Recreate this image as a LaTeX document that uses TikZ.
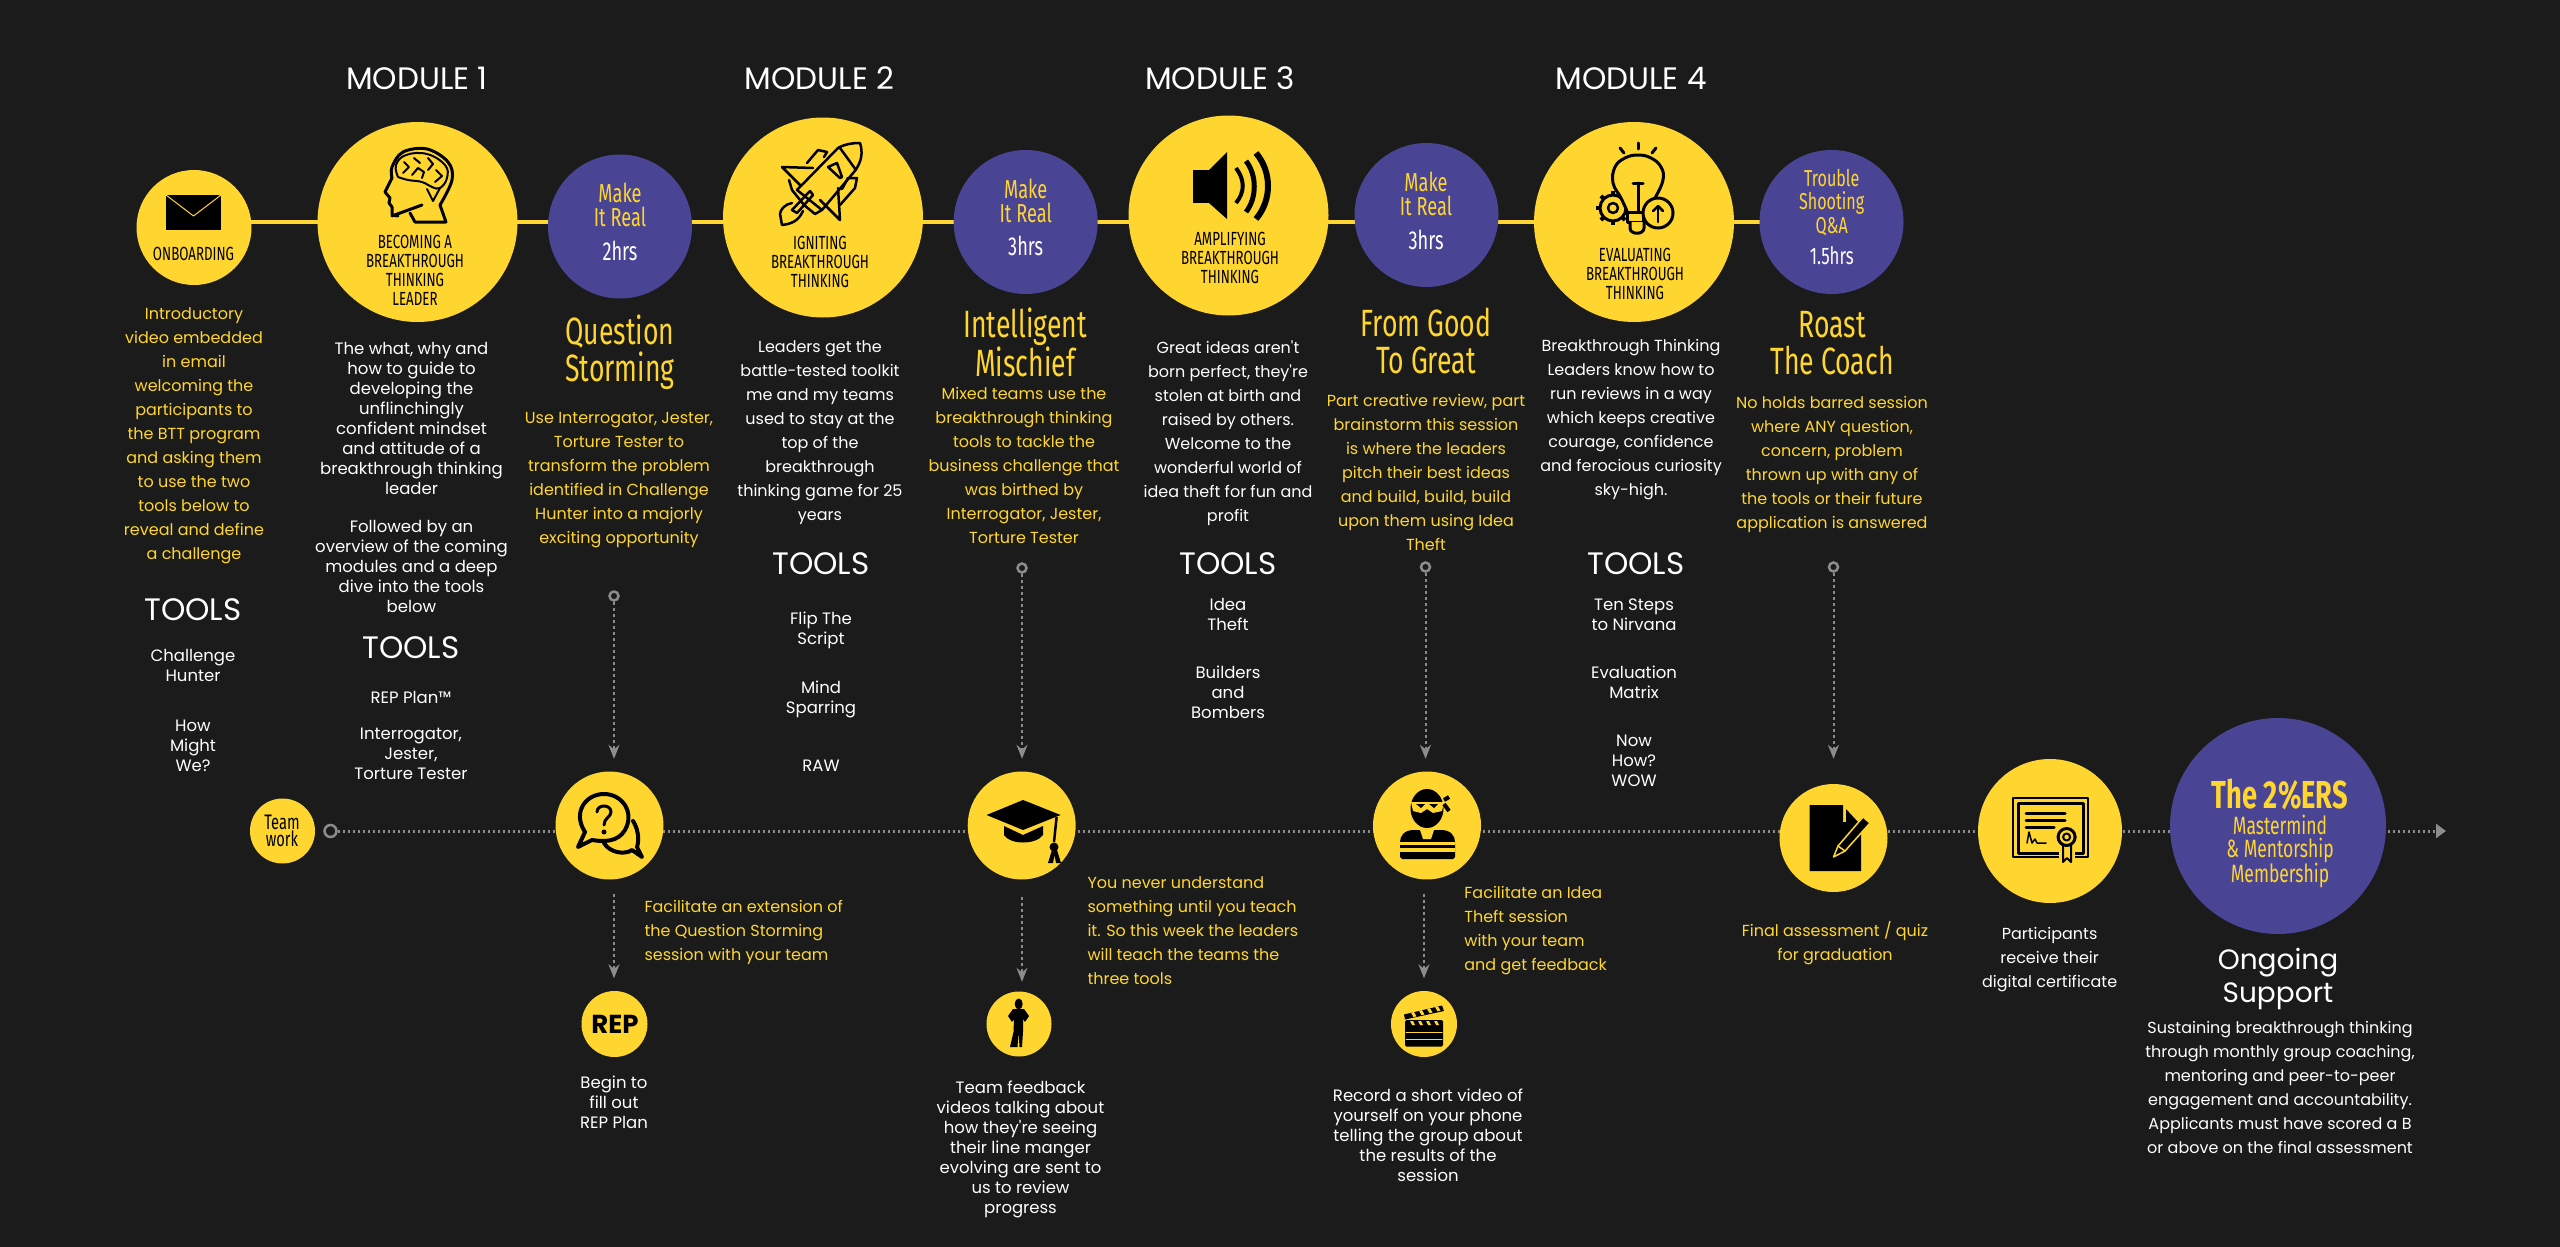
\documentclass[tikz,border=0pt]{standalone}
\usepackage{fontspec}
\usetikzlibrary{arrows.meta, backgrounds}
\newfontfamily\bodyfont{Poppins}
\newfontfamily\condfont[FakeStretch=0.7]{Fira Sans}
\definecolor{nightbg}{HTML}{1B1B1B}
\definecolor{discyellow}{HTML}{FFD62F}
\definecolor{discpurple}{HTML}{4A4494}
\definecolor{trailgrey}{HTML}{8C8C8C}
\tikzset{
  yellowdisc/.style={circle, fill=discyellow, inner sep=0pt, minimum size=#1},
  purpledisc/.style={circle, fill=discpurple, inner sep=0pt, minimum size=#1},
  openring/.style={circle, draw=trailgrey, fill=nightbg, line width=2.5pt, inner sep=0pt, minimum size=#1},
  spineline/.style={draw=discyellow, line width=3.2pt},
  dotline/.style={draw=trailgrey, line width=3pt, dash pattern=on 2.5pt off 2.5pt, -{Triangle[length=10pt,width=14pt,fill=trailgrey]}},
  dropline/.style={draw=trailgrey, line width=2pt, dash pattern=on 3pt off 3pt, -{Stealth[length=14pt,width=11pt,fill=trailgrey]}},
  textbase/.style={inner sep=0pt, outer sep=0pt, align=center, anchor=north, execute at begin node=\strut},
  bodyyellow/.style={textbase, yshift=-6.5pt, text=discyellow, font=\fontsize{16}{24}\selectfont\bodyfont},
  bodywhite/.style={textbase, yshift=-6.5pt, text=white, font=\fontsize{16}{24}\selectfont\bodyfont},
  tightwhite/.style={textbase, yshift=-6.5pt, text=white, font=\fontsize{16.5}{20}\selectfont\bodyfont},
  headwhite/.style={textbase, yshift=-5pt, anchor=center, text=white, font=\fontsize{31}{34}\selectfont\bodyfont},
  discblack/.style={textbase, yshift=-3.5pt, text=black, font=\fontsize{19}{19}\selectfont\condfont},
  makeyellow/.style={textbase, yshift=-4pt, anchor=center, text=discyellow, font=\fontsize{26}{24}\selectfont\condfont},
  hourswhite/.style={textbase, yshift=-3pt, anchor=center, text=white, font=\fontsize{26}{24}\selectfont\condfont},
  titleyellow/.style={textbase, yshift=-6pt, text=discyellow, font=\fontsize{38}{37}\selectfont\condfont},
  icon/.style={draw=black, line width=3pt, line cap=round, line join=round},
  cuticon/.style={draw=discyellow, line width=1.5pt, line cap=round, line join=round}
}
\begin{document}
\begin{tikzpicture}[x=1pt, y=-1pt]
  \useasboundingbox (0,0) rectangle (2560,1247);

  \node[yellowdisc=115pt] (onboard) at (194,227.5) {};
  \node[yellowdisc=200pt] (moduleone) at (417.5,222) {};
  \node[purpledisc=144pt] (realone) at (620,226.5) {};
  \node[yellowdisc=200pt] (moduletwo) at (823,217.5) {};
  \node[purpledisc=144pt] (realtwo) at (1025.7,222) {};
  \node[yellowdisc=200pt] (modulethree) at (1228.5,215.5) {};
  \node[purpledisc=144pt] (realthree) at (1426.5,215) {};
  \node[yellowdisc=200pt] (modulefour) at (1634,222) {};
  \node[purpledisc=144pt] (realfour) at (1831.5,222) {};

  \node[yellowdisc=65pt] (teamdisc) at (282.5,831) {};
  \node[openring=12pt] (teamring) at (330.5,831) {};
  \node[yellowdisc=108pt] (quizdisc) at (609.5,825.5) {};
  \node[yellowdisc=108pt] (capdisc) at (1021.7,825.5) {};
  \node[yellowdisc=108pt] (ninjadisc) at (1427,825.5) {};
  \node[yellowdisc=108pt] (pagedisc) at (1833.5,838) {};
  \node[yellowdisc=144pt] (certdisc) at (2050,831) {};
  \node[purpledisc=216pt] (ersdisc) at (2278,826) {};
  \node[yellowdisc=66pt] (repdisc) at (614.5,1024) {};
  \node[yellowdisc=65pt] (womandisc) at (1019,1024) {};
  \node[yellowdisc=66pt] (clapdisc) at (1424,1024) {};

  \node[openring=9pt] (ringquiz) at (614,596) {};
  \node[openring=9pt] (ringcap) at (1022,568) {};
  \node[openring=9pt] (ringninja) at (1425.5,567) {};
  \node[openring=9pt] (ringpage) at (1833.5,567) {};

  \coordinate (spinelevel) at (0,222);
  \coordinate (dotend) at (2446,831);

  \begin{scope}[on background layer]
    \fill[nightbg] (0,0) rectangle (2560,1247);
    \draw[spineline] (onboard |- spinelevel) -- (realfour |- spinelevel);
    \draw[dotline] (teamring) -- (dotend);
  \end{scope}

  \draw[dropline, shorten >=12.5pt] (ringquiz) -- (ringquiz |- quizdisc.north);
  \draw[dropline, shorten >=12.5pt] (ringcap) -- (ringcap |- capdisc.north);
  \draw[dropline, shorten >=12.5pt] (ringninja) -- (ringninja |- ninjadisc.north);
  \draw[dropline, shorten >=25pt] (ringpage) -- (ringpage |- pagedisc.north);
  \draw[dropline, shorten <=14pt, shorten >=12.5pt] (ringquiz |- quizdisc.south) -- (ringquiz |- repdisc.north);
  \draw[dropline, shorten <=17pt, shorten >=9.5pt] (ringcap |- capdisc.south) -- (ringcap |- womandisc.north);
  \draw[dropline, shorten <=14pt, shorten >=12.5pt] (clapdisc |- ninjadisc.south) -- (clapdisc.north);

  \node[headwhite] (titleone) at (417,78) {MODULE 1};
  \node[headwhite] (titletwo) at (819.5,78) {MODULE 2};
  \node[headwhite] (titlethree) at (1220,78) {MODULE 3};
  \node[headwhite] (titlefour) at (1631,78) {MODULE 4};

  \node[discblack, anchor=center] (onboardtext) at (193.5,252.7) {ONBOARDING};
  \node[discblack] (moduleonetext) at (415,232) {BECOMING A\\BREAKTHROUGH\\THINKING\\LEADER};
  \node[discblack] (moduletwotext) at (820,233) {IGNITING\\BREAKTHROUGH\\THINKING};
  \node[discblack] (modulethreetext) at (1230,229) {AMPLIFYING\\BREAKTHROUGH\\THINKING};
  \node[discblack] (modulefourtext) at (1635,245) {EVALUATING\\BREAKTHROUGH\\THINKING};

  \node[makeyellow] (makeone) at (620,204) {Make\\It Real};
  \node[hourswhite] (hoursone) at (620,251) {2hrs};
  \node[makeyellow] (maketwo) at (1025.7,200) {Make\\It Real};
  \node[hourswhite] (hourstwo) at (1025.7,246.7) {3hrs};
  \node[makeyellow] (makethree) at (1426,193) {Make\\It Real};
  \node[hourswhite] (hoursthree) at (1426,240) {3hrs};
  \node[textbase, yshift=-4pt, anchor=center, text=discyellow, font=\fontsize{23}{23.5}\selectfont\condfont] (makefour) at (1831.7,200.5) {Trouble\\Shooting\\Q\&A};
  \node[hourswhite, font=\fontsize{24}{24}\selectfont\condfont] (hoursfour) at (1831.7,256) {1.5hrs};

  \node[titleyellow] (titlestorm) at (620,309) {Question\\Storming};
  \node[titleyellow] (titlemischief) at (1025,302) {Intelligent\\Mischief};
  \node[titleyellow] (titlegreat) at (1426,302) {From Good\\To Great};
  \node[titleyellow] (titleroast) at (1832,305) {Roast\\The Coach};

  \node[bodyyellow] (introtext) at (194,301) {Introductory\\video embedded\\in email\\welcoming the\\participants to\\the BTT program\\and asking them\\to use the two\\tools below to\\reveal and define\\a challenge};
  \node[headwhite] (toolsonboard) at (193,609) {TOOLS};
  \node[tightwhite] (listonboard) at (193,643) {Challenge\\Hunter\\[30pt]How\\Might\\We?};

  \node[tightwhite] (moduleonebody) at (411.5,336) {The what, why and\\how to guide to\\developing the\\unflinchingly\\confident mindset\\and attitude of a\\breakthrough thinking\\leader\\[18pt]Followed by an\\overview of the coming\\modules and a deep\\dive into the tools\\below};
  \node[headwhite] (toolsone) at (411,647) {TOOLS};
  \node[tightwhite] (listone) at (411,685) {REP Plan\texttrademark\\[16pt]Interrogator,\\Jester,\\Torture Tester};

  \node[bodyyellow] (stormbody) at (619,406) {Use Interrogator, Jester,\\Torture Tester to\\transform the problem\\identified in Challenge\\Hunter into a majorly\\exciting opportunity};

  \node[bodywhite] (moduletwobody) at (820,334) {Leaders get the\\battle-tested toolkit\\me and my teams\\used to stay at the\\top of the\\breakthrough\\thinking game for 25\\years};
  \node[headwhite] (toolstwo) at (821,563) {TOOLS};
  \node[tightwhite] (listtwo) at (821,605) {Flip The\\Script\\[29pt]Mind\\Sparring\\[38pt]RAW};

  \node[bodyyellow] (mischiefbody) at (1024,381) {Mixed teams use the\\breakthrough thinking\\tools to tackle the\\business challenge that\\was birthed by\\Interrogator, Jester,\\Torture Tester};

  \node[bodywhite] (modulethreebody) at (1228,334) {Great ideas aren't\\born perfect, they're\\stolen at birth and\\raised by others.\\Welcome to the\\wonderful world of\\idea theft for fun and\\profit};
  \node[headwhite] (toolsthree) at (1228,563) {TOOLS};
  \node[tightwhite] (listthree) at (1228,592) {Idea\\Theft\\[28pt]Builders\\and\\Bombers};

  \node[bodyyellow] (greatbody) at (1426,388) {Part creative review, part\\brainstorm this session\\is where the leaders\\pitch their best ideas\\and build, build, build\\upon them using Idea\\Theft};

  \node[bodywhite] (modulefourbody) at (1631,333) {Breakthrough Thinking\\Leaders know how to\\run reviews in a way\\which keeps creative\\courage, confidence\\and ferocious curiosity\\sky-high.};
  \node[headwhite] (toolsfour) at (1636,563) {TOOLS};
  \node[tightwhite] (listfour) at (1634,592) {Ten Steps\\to Nirvana\\[28pt]Evaluation\\Matrix\\[28pt]Now\\How?\\WOW};

  \node[bodyyellow] (roastbody) at (1832,390) {No holds barred session\\where ANY question,\\concern, problem\\thrown up with any of\\the tools or their future\\application is answered};

  \node[textbase, yshift=-2pt, anchor=center, text=black, font=\fontsize{21}{15.5}\selectfont\condfont] (teamtext) at (282,831) {Team\\work};
  \node[bodyyellow, anchor=north west, align=left] (extendtext) at (644.5,894) {Facilitate an extension of\\the Question Storming\\session with your team};
  \node[tightwhite] (reptext) at (614,1069) {Begin to\\fill out\\REP Plan};
  \node[bodyyellow, anchor=north west, align=left] (teachtext) at (1087.5,870) {You never understand\\something until you teach\\it. So this week the leaders\\will teach the teams the\\three tools};
  \node[tightwhite] (womantext) at (1020.5,1074) {Team feedback\\videos talking about\\how they're seeing\\their line manger\\evolving are sent to\\us to review\\progress};
  \node[bodyyellow, anchor=north west, align=left] (ideatext) at (1464.4,880) {Facilitate an Idea\\Theft session\\with your team\\and get feedback};
  \node[tightwhite] (cliptext) at (1428,1082) {Record a short video of\\yourself on your phone\\telling the group about\\the results of the\\session};
  \node[bodyyellow] (assesstext) at (1835,915) {Final assessment / quiz\\for graduation};
  \node[bodywhite] (certtext) at (2049.6,921) {Participants\\receive their\\digital certificate};

  \node[textbase, yshift=-6pt, anchor=center, text=discyellow, font=\fontsize{39}{36}\selectfont\condfont\bfseries] (erstitle) at (2280,792.7) {The 2\%ERS};
  \node[textbase, yshift=-2pt, text=discyellow, font=\fontsize{25}{22.5}\selectfont\condfont] (erstext) at (2280,813) {Mastermind\\\& Mentorship\\Membership};
  \node[textbase, yshift=-5pt, anchor=center, text=white, font=\fontsize{28}{33}\selectfont\bodyfont] (ongoing) at (2278,975) {Ongoing\\Support};
  \node[bodywhite] (ongoingbody) at (2280,1015) {Sustaining breakthrough thinking\\through monthly group coaching,\\mentoring and peer-to-peer\\engagement and accountability.\\Applicants must have scored a B\\or above on the final assessment};
  \node[textbase, yshift=-2pt, anchor=center, text=black, font=\fontsize{26}{30}\selectfont\bodyfont\bfseries] (reptitle) at (615,1025) {REP};

  \fill (166,195) rectangle (221,230);
  \draw[cuticon, line width=1pt] (166,195) -- (193.5,216) -- (221,195);

  \draw[icon] plot[smooth, tension=0.6] coordinates {(392,216) (422,205)};
  \draw[icon] (410,213) -- (415,222) -- (446,222) -- (440,205);
  \draw[icon] plot[smooth, tension=0.6] coordinates {(440,205) (452,180) (448,162) (427,149) (403,152) (392,167) (392,178)};
  \draw[icon] (392,178) -- (385,192) -- (390,198) -- (389,203) -- (392,207) -- (392,215) -- (398,216);
  \draw[icon, line width=2pt] plot[smooth, tension=0.7] coordinates {(398,177) (396,165) (406,155) (427,154) (445,165) (447,178) (440,188) (432,187) (422,182) (408,180) (398,177)};
  \draw[icon, line width=2pt] (427,189) -- (433,201) -- (440,188);
  \draw[icon, line width=2pt] (404,162) -- (409,167) -- (403,173);
  \draw[icon, line width=2pt] (414,158) -- (420,163);
  \draw[icon, line width=2pt] (412,175) -- (418,168) -- (424,172) -- (422,178);
  \draw[icon, line width=2pt] (428,158) -- (433,164) -- (428,170);
  \draw[icon, line width=2pt] (436,170) -- (442,176) -- (435,182);

  \draw[icon, line width=2.5pt, miter limit=2] (838,148) .. controls (845,144) and (852,143) .. (860,143) .. controls (863,152) and (862,162) .. (854,172) -- (822,210) -- (797,190) -- cycle;
  \draw[icon, line width=2.5pt] (840,148) -- (856,170);
  \draw[icon, line width=2.5pt] (813,168) -- (782,167) -- (800,185);
  \draw[icon, line width=2.5pt] (807,163) -- (818,150) -- (827,152) -- (824,157);
  \draw[icon, line width=2.5pt] (838,188) -- (840,220) -- (820,200);
  \draw[icon, line width=2.5pt] (842,189) -- (848,178) -- (857,178) -- (855,188) -- (840,205);
  \draw[icon, line width=2.5pt] (828,167) -- (837,163) -- (842,177) -- (840,178) -- cycle;
  \draw[icon, line width=2.5pt] (792,210) -- (810,191) -- (813,195) -- (797,213) -- cycle;
  \draw[icon, line width=2.5pt] (792,203) .. controls (785,204) and (780,210) .. (780,214) -- (782,225) .. controls (790,224) and (798,222) .. (803,211);
  \draw[icon, line width=2.5pt] (789,180) -- (792,190) -- (804,205) -- (815,214) -- (822,210);

  \fill (1193,170) rectangle (1212,203);
  \fill (1209,170) -- (1227,152) -- (1227,219) -- (1209,203) -- cycle;
  \draw[line width=4pt] (1236,168) .. controls (1245,180) and (1245,192) .. (1236,203);
  \draw[line width=5pt] (1246,161) .. controls (1257,175) and (1257,198) .. (1246,212);
  \draw[line width=6pt] (1256,153) .. controls (1272,172) and (1272,200) .. (1256,219);

  \draw[icon] (1613,208) circle (13);
  \foreach \gearangle in {0,45,...,315} {
    \draw[icon, line width=4pt, line cap=butt] (1613,208) ++(\gearangle:13) -- ++(\gearangle:4);
  }
  \draw[icon, line width=2.5pt] (1613,208) circle (5);
  \draw[icon, fill=discyellow] plot[smooth, tension=0.7] coordinates {(1627,211) (1621,198) (1613,183) (1615,167) (1625,158) (1638,155) (1651,158) (1661,167) (1663,180) (1655,198) (1647,210)};
  \draw[icon] (1633,183) -- (1643,183);
  \draw[icon] (1638,183) -- (1638,211);
  \draw[icon, fill=discyellow] (1627,212) rectangle (1643,222);
  \draw[icon, fill=discyellow] (1630,222) -- (1630,228) .. controls (1630,235) and (1644,235) .. (1644,228) -- (1644,222);
  \draw[icon, fill=discyellow] (1658,213) circle (15);
  \draw[icon, line width=2.5pt] (1658,222) -- (1658,207);
  \draw[icon, line width=2.5pt] (1653,211) -- (1658,206) -- (1663,211);
  \draw[icon] (1638,143) -- (1638,149);
  \draw[icon] (1620,148) -- (1624,153);
  \draw[icon] (1652,153) -- (1656,148);

  \draw[icon, line width=4pt] (633,821) .. controls (637,827) and (640,838) .. (637,847) -- (642,857) -- (632,850) .. controls (625,855) and (610,853) .. (604,843);
  \draw[icon, line width=4pt] (592,840) -- (578,847) -- (585,832) .. controls (572,812) and (586,794) .. (604,794) .. controls (622,794) and (635,812) .. (625,830) .. controls (618,842) and (604,842) .. (592,840) -- cycle;
  \draw[icon] (597,812) .. controls (597,804) and (611,804) .. (611,812) .. controls (611,817) and (604,818) .. (604,825);
  \fill (604,832) circle (2.5);

  \fill (986.6,815) -- (1023,800) -- (1060.6,815) -- (1023,830) -- cycle;
  \fill (1004,826) -- (1023,835) -- (1043,826) -- (1043,835) .. controls (1036,845) and (1010,845) .. (1004,835) -- cycle;
  \draw[line width=2.5pt] (1056.6,817) -- (1054,842);
  \fill (1054,847) circle (4.5);
  \fill (1052,850) -- (1048,863) -- (1053,863) -- (1054.5,855) -- (1056,863) -- (1061,863) -- (1057,850) -- cycle;

  \fill (1427,808.5) ellipse (16.5 and 19.5);
  \fill[discyellow] (1411,802) -- (1444,802) -- (1442,811) -- (1433,813) -- (1427,809) -- (1421,813) -- (1413,811) -- cycle;
  \fill (1416,804) -- (1425,804) -- (1421,808) -- cycle;
  \fill (1429,804) -- (1438,804) -- (1434,808) -- cycle;
  \draw[line width=4pt] (1444,800) -- (1449,797);
  \draw[line width=4pt] (1444,804) -- (1449,811);
  \fill (1400,842) .. controls (1400,836) and (1404,830) .. (1414,830) -- (1441,830) .. controls (1451,830) and (1455,836) .. (1455,842) -- (1455,857) -- (1453,859) -- (1402,859) -- (1400,857) -- cycle;
  \fill[discyellow] (1420,830) -- (1434,830) -- (1431,839) -- (1423,839) -- cycle;
  \draw[cuticon, line width=3pt, line cap=butt] (1400,843) -- (1455,843);
  \draw[cuticon, line width=3.5pt, line cap=butt] (1400,850) -- (1455,850);

  \fill (1809.5,805) -- (1843,805) -- (1843,822) -- (1861,822) -- (1861,871) -- (1809.5,871) -- cycle;
  \fill (1846,809) -- (1858,822) -- (1846,822) -- cycle;
  \draw[cuticon, fill=black] (1833.5,857) -- (1838,846) -- (1863,817) -- (1870,823) -- (1845,851) -- cycle;
  \draw[cuticon] (1838,846) -- (1845,851);

  \draw[icon, line width=2pt] (2013,798) rectangle (2088,857);
  \draw[icon] (2018,803) rectangle (2083,853);
  \draw[icon] (2026,813) -- (2065,813);
  \draw[icon] (2026,820) -- (2065,820);
  \draw[icon] (2026,827) -- (2054,827);
  \draw[icon, line width=1.5pt] (2027,843) -- (2029,832) -- (2032,843) -- (2035,839) -- (2037,843) -- (2046,843);
  \fill[discyellow] (2059,825) rectangle (2075,866);
  \draw[icon, line width=2pt, fill=discyellow] (2063,845) -- (2063,862) -- (2067,858) -- (2071,862) -- (2071,845);
  \draw[icon, fill=discyellow] (2066.6,837) circle (8.5);
  \draw[icon, line width=2pt] (2066.6,837) circle (3.5);

  \fill (1018.7,1004) ellipse (4 and 5.5);
  \fill (1013,1009) -- (1024,1009) -- (1029,1016) -- (1025,1022) -- (1023,1019) -- (1023,1032) -- (1022,1047) -- (1019.5,1047) -- (1018.5,1032) -- (1017.5,1047) -- (1010,1047) -- (1013.5,1032) -- (1014,1019) -- (1012,1022) -- (1008,1016) -- cycle;

  \fill[rounded corners=1.5pt] (1405,1020) rectangle (1443,1046.7);
  \foreach \stripe in {1410,1418,1426,1434} {
    \fill[discyellow] (\stripe,1021) -- (\stripe+3,1021) -- (\stripe+5,1025) -- (\stripe+2,1025) -- cycle;
  }
  \draw[cuticon, line width=1pt] (1406,1032.3) -- (1442,1032.3);
  \draw[cuticon, line width=1pt] (1406,1039.3) -- (1442,1039.3);
  \fill (1404,1014.5) -- (1442,1005.5) -- (1444,1011) -- (1405,1019.5) -- cycle;
  \foreach \stripe in {1411,1419,1427,1435} {
    \fill[discyellow, shift={(\stripe,{1016-(\stripe-1404)*0.24})}] (0,-1.6) -- (3,-2.3) -- (5.5,2) -- (2.5,2.7) -- cycle;
  }
\end{tikzpicture}
\end{document}
